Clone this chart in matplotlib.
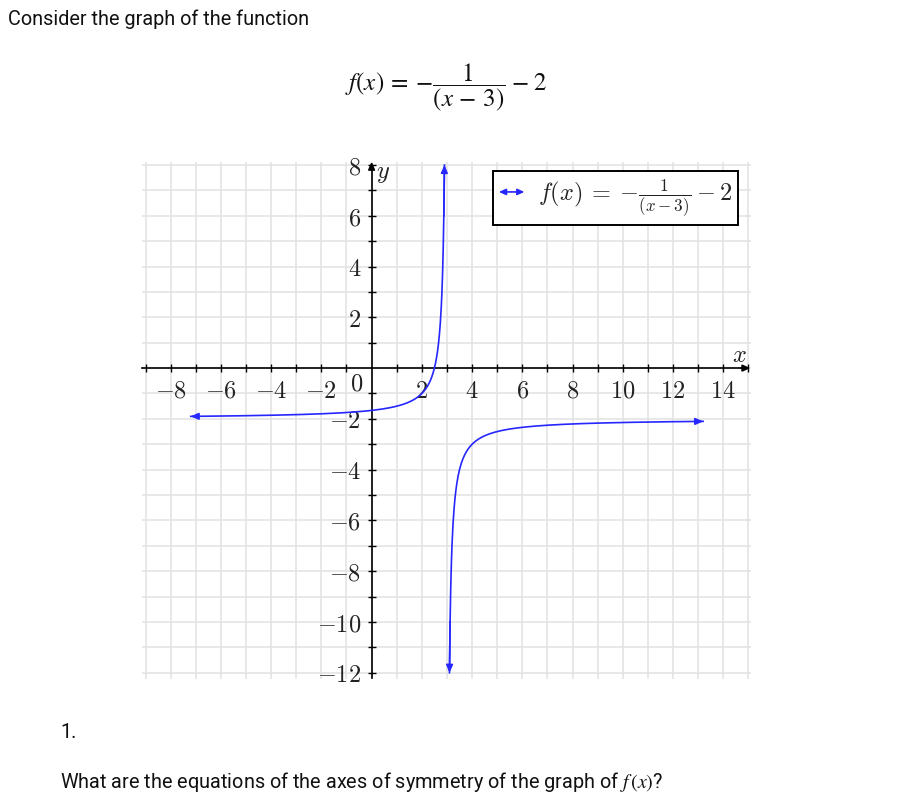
import matplotlib
matplotlib.use('Agg')
import matplotlib.pyplot as plt
import numpy as np
from matplotlib.patches import FancyArrowPatch
from matplotlib.legend_handler import HandlerBase
from matplotlib.lines import Line2D

plt.rcParams['mathtext.fontset'] = 'cm'

# ---- data: f(x) = -a/(x - h) + k ----
coef_a = 1.0
shift_h = 3.0
shift_k = -2.0
left_domain = [-7.2, 2.9]
right_domain = [3.1, 13.2]
x_tick_vals = [-8, -6, -4, -2, 2, 4, 6, 8, 10, 12, 14]
y_tick_vals = [-12, -10, -8, -6, -4, -2, 2, 4, 6, 8]
grid_x = list(range(-9, 16))
grid_y = list(range(-12, 9))
minor_x = [v for v in range(-9, 16) if v != 0]
minor_y = [v for v in range(-12, 9) if v != 0]


def f(x):
    return -coef_a / (x - shift_h) + shift_k


W, H = 907, 806
fig = plt.figure(figsize=(W / 100, H / 100), dpi=100)

sx, x0 = 25.12, 371.6
sy, y0 = 25.385, 368.1
xlim = (-9.6, 15.6)
ylim = (-12.6, 8.6)
left_px = x0 + xlim[0] * sx
right_px = x0 + xlim[1] * sx
top_px = y0 - ylim[1] * sy
bot_px = y0 - ylim[0] * sy
ax = fig.add_axes([left_px / W, 1 - bot_px / H, (right_px - left_px) / W, (bot_px - top_px) / H])
ax.set_xlim(xlim)
ax.set_ylim(ylim)
ax.patch.set_alpha(0)

LS = 17.5  # chart label size

# grid
gcol = '#e2e2e2'
ax.vlines(grid_x, -12.25, 8.1, color=gcol, lw=1.1, zorder=0)
ax.hlines(grid_y, -9.15, 15.1, color=gcol, lw=1.1, zorder=0)

# axes spines
for s in ['top', 'right']:
    ax.spines[s].set_visible(False)
ax.spines['left'].set_position(('data', 0))
ax.spines['bottom'].set_position(('data', 0))
ax.spines['left'].set_bounds(-12.2, 8.0)
ax.spines['bottom'].set_bounds(-9.15, 14.9)
for s in ['left', 'bottom']:
    ax.spines[s].set_linewidth(1.2)
    ax.spines[s].set_color('black')

ax.set_xticks(x_tick_vals)
ax.set_xticklabels([f'${v}$' for v in x_tick_vals])
ax.set_yticks(y_tick_vals)
ax.set_yticklabels([f'${v}$' for v in y_tick_vals])
ax.set_xticks(minor_x, minor=True)
ax.set_yticks(minor_y, minor=True)
ax.tick_params(which='both', direction='inout', length=6, width=1.0, color='black')
ax.tick_params(which='major', labelsize=LS, labelcolor='#222222', pad=4.5)

# axis arrows
ax.annotate('', xy=(15.08, 0), xytext=(14.7, 0),
            arrowprops=dict(arrowstyle='-|>,head_length=0.45,head_width=0.2', color='black',
                            lw=1.2, mutation_scale=10, shrinkA=0, shrinkB=0))
ax.annotate('', xy=(0, 8.13), xytext=(0, 7.8),
            arrowprops=dict(arrowstyle='-|>,head_length=0.45,head_width=0.2', color='black',
                            lw=1.2, mutation_scale=10, shrinkA=0, shrinkB=0))

ax.text(14.63, 0.5, r'$x$', fontsize=LS, color='#222222', ha='center', va='center')
ax.text(0.47, 7.69, r'$y$', fontsize=LS, color='#222222', ha='center', va='center')
ax.text(-0.58, -0.6, r'$0$', fontsize=LS, color='#222222', ha='center', va='center')

# curve
blue = '#2626ff'
xl = np.linspace(left_domain[0], left_domain[1], 800)
xr = np.linspace(right_domain[0], right_domain[1], 800)
ax.plot(xl, f(xl), color=blue, lw=1.2, zorder=3)
ax.plot(xr, f(xr), color=blue, lw=1.2, zorder=3)
aprops = dict(arrowstyle='-|>,head_length=0.45,head_width=0.2', color=blue, lw=1.2,
              mutation_scale=10, shrinkA=0, shrinkB=0)
for tip, back in [(xl[0], xl[12]), (xl[-1], xl[-3]), (xr[0], xr[2]), (xr[-1], xr[-12])]:
    ax.annotate('', xy=(tip, f(tip)), xytext=(back, f(back)), arrowprops=aprops, zorder=4)


class ArrowHandler(HandlerBase):
    def create_artists(self, legend, orig_handle, xdescent, ydescent, width, height, fontsize, trans):
        yc = height / 2 - ydescent
        a = FancyArrowPatch((-xdescent, yc), (width - xdescent, yc),
                            arrowstyle='<|-|>,head_length=0.4,head_width=0.18',
                            mutation_scale=10, color=blue, lw=1.2, transform=trans,
                            shrinkA=0, shrinkB=0)
        return [a]


handle = Line2D([], [], color=blue)
leg = ax.legend([handle], [r'$f(x)\:=\:{-}\frac{1}{(x-3)} - 2$'],
                handler_map={Line2D: ArrowHandler()},
                loc='upper right', bbox_to_anchor=(14.6, 7.75), bbox_transform=ax.transData,
                borderaxespad=0, fontsize=LS, fancybox=False, framealpha=1,
                edgecolor='black', handlelength=1.05, handletextpad=0.55, borderpad=0.25)
leg.get_frame().set_linewidth(1.4)
for t in leg.get_texts():
    t.set_color('#222222')

# page text
TS = 14.3
fig.text(8 / W, 1 - 19 / H, 'Consider the graph of the function', family='Roboto',
         fontsize=TS, color='#111111', ha='left', va='center')
fig.text(446 / W, 1 - 88 / H, r'$f(x)\:=\:{-}\dfrac{1}{(x\,-\,3)}\;{-}\;2$', math_fontfamily='stix',
         fontsize=18, color='#111111', ha='center', va='center')
fig.text(60 / W, 1 - 733 / H, '1.', family='Roboto', fontsize=TS, color='#111111',
         ha='left', va='center')
fig.text(60 / W, 1 - 782 / H, r'What are the equations of the axes of symmetry of the graph of $f\,(x)$?',
         family='Roboto', math_fontfamily='stix', fontsize=TS, color='#111111',
         ha='left', va='center')

fig.savefig('out.png', dpi=100)
